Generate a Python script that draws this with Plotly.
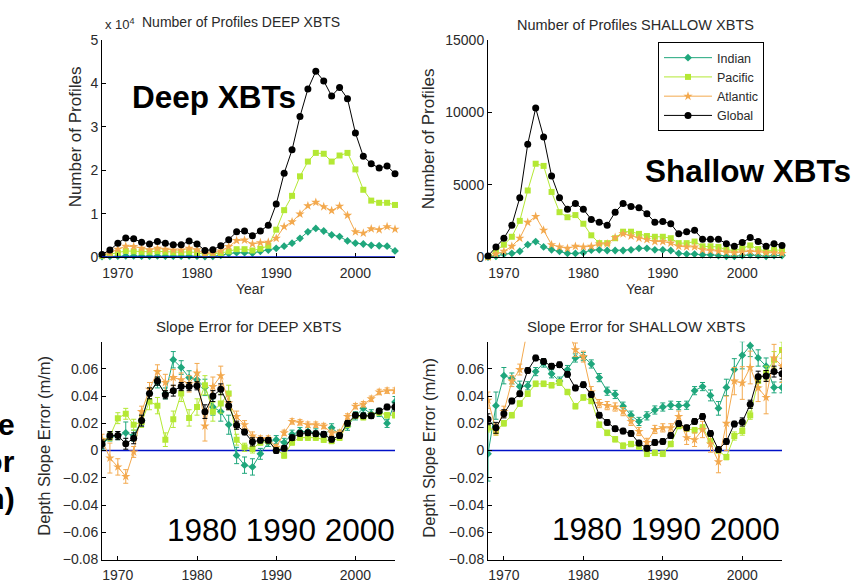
import plotly.graph_objects as go

# ---------------------------------------------------------------- data
years = list(range(1968, 2006))

# number of profiles per year, DEEP XBTs
deep_indian = [100, 150, 200, 250, 250, 200, 200, 250, 200, 200, 200, 250, 200, 100, 150, 400,
               800, 1000, 1000, 900, 1300, 1600,
               2000, 2500, 3200, 4300, 5800, 6600, 6000, 5100, 4700, 3700, 3200, 3000, 2700, 2600, 2500, 1400]
deep_pacific = [300, 600, 1000, 1400, 1300, 1200, 1200, 1300, 1200, 1100, 1100, 1200, 1000, 600, 700, 900,
                1300, 1800, 1800, 1500, 1900, 2600,
                6300, 10800, 14100, 18600, 22000, 24000, 23800, 22000, 23400, 24000, 20200, 15500, 13000, 12500, 12500, 12000]
deep_atlantic = [400, 1000, 1800, 2500, 2400, 2000, 1700, 2000, 1800, 1600, 1600, 2000, 1700, 800, 900, 1400,
                 2400, 3800, 3900, 3000, 3300, 3400,
                 4300, 7000, 8100, 9900, 11800, 12600, 11600, 10700, 11700, 9600, 5800, 5500, 6500, 6300, 7000, 6400]
deep_global = [600, 1600, 3200, 4400, 4200, 3400, 3000, 3600, 3200, 2800, 2800, 3700, 3000, 1500, 1700, 2600,
               4000, 5800, 6000, 4900, 6000, 7300,
               12200, 19300, 24700, 32400, 38700, 42800, 40600, 37100, 39100, 36500, 28600, 23200, 21500, 20500, 21000, 19200]

# number of profiles per year, SHALLOW XBTs
shallow_indian = [0, 50, 200, 250, 400, 850, 1070, 700, 500, 400, 250, 250, 300, 470, 500, 450, 450, 450, 500,
                  600, 600, 500, 500, 450, 250, 200, 200, 150, 150, 100, 50, 50, 100, 150, 100, 50, 100, 100]
shallow_pacific = [0, 400, 850, 1400, 2500, 4600, 6450, 6300, 4500, 3100, 2750, 2900, 2300, 1500, 960, 960, 1300,
                   1750, 1750, 1600, 1450, 1400, 1400, 1300, 960, 960, 1070, 740, 740, 700, 500, 450, 600, 800,
                   550, 400, 500, 450]
shallow_atlantic = [0, 200, 400, 740, 1300, 2400, 2800, 1850, 850, 700, 600, 740, 700, 740, 900, 900, 1350, 1600,
                    1450, 1300, 1200, 1070, 1070, 960, 740, 700, 700, 500, 450, 400, 350, 300, 350, 400, 350, 300,
                    300, 250]
shallow_global = [70, 700, 1300, 2200, 4100, 7800, 10300, 8300, 5600, 4100, 3300, 3700, 3300, 2600, 2400, 2200,
                  3100, 3700, 3500, 3400, 3000, 2400, 2450, 2300, 1600, 1750, 1850, 1230, 1230, 1230, 920, 740,
                  1000, 1350, 1080, 740, 920, 800]

# depth slope error (m/m) and its uncertainty, DEEP XBTs
slope_deep_indian = [0.004, 0.010, 0.011, 0.013, 0.011, 0.022, 0.042, 0.050, 0.042, 0.0667,
                     0.061, 0.0536, 0.052, 0.0464, 0.032, 0.0286, 0.019, -0.0036, -0.0107, -0.012,
                     -0.0024, 0.006, 0.008, 0.006, 0.012, 0.014, 0.014, 0.013, 0.011, 0.0167,
                     0.012, 0.0179, 0.0255, 0.031, 0.027, 0.028, 0.020, 0.0357]
slope_deep_indian_err = [0.003, 0.003, 0.003, 0.008, 0.004, 0.004, 0.004, 0.004, 0.004, 0.006,
                         0.005, 0.005, 0.005, 0.006, 0.006, 0.007, 0.007, 0.006, 0.006, 0.006,
                         0.004, 0.003, 0.003, 0.003, 0.003, 0.003, 0.003, 0.003, 0.003, 0.003,
                         0.003, 0.003, 0.003, 0.003, 0.003, 0.003, 0.003, 0.004]
slope_deep_pacific = [0.006, 0.0105, 0.0238, 0.027, 0.019, 0.021, 0.036, 0.033, 0.008, 0.023,
                      0.042, 0.024, 0.032, 0.048, 0.0286, 0.0345, 0.042, 0.008, 0.0024, 0.0012,
                      0.006, 0.007, 0.001, -0.0036, 0.006, 0.0095, 0.0095, 0.0095, 0.008, 0.007,
                      0.0095, 0.019, 0.0255, 0.0245, 0.026, 0.028, 0.026, 0.026]
slope_deep_pacific_err = [0.003, 0.003, 0.004, 0.004, 0.004, 0.004, 0.006, 0.006, 0.005, 0.006,
                          0.006, 0.006, 0.006, 0.007, 0.007, 0.007, 0.006, 0.004, 0.003, 0.003,
                          0.002, 0.002, 0.002, 0.002, 0.002, 0.002, 0.002, 0.002, 0.002, 0.002,
                          0.002, 0.002, 0.002, 0.002, 0.002, 0.002, 0.002, 0.002]
slope_deep_atlantic = [0.008, -0.0055, -0.012, -0.019, -0.001, 0.0286, 0.045, 0.058, 0.050, 0.0536,
                       0.052, 0.049, 0.057, 0.018, 0.047, 0.055, 0.035, 0.025, 0.019, 0.0107,
                       0.0088, 0.0088, 0.0024, 0.013, 0.0214, 0.0207, 0.019, 0.019, 0.018, 0.013,
                       0.013, 0.025, 0.0326, 0.034, 0.038, 0.043, 0.044, 0.044]
slope_deep_atlantic_err = [0.004, 0.011, 0.006, 0.005, 0.004, 0.004, 0.005, 0.005, 0.006, 0.006,
                           0.005, 0.006, 0.007, 0.011, 0.007, 0.007, 0.005, 0.004, 0.003, 0.003,
                           0.002, 0.002, 0.002, 0.002, 0.002, 0.002, 0.002, 0.002, 0.002, 0.002,
                           0.002, 0.002, 0.002, 0.002, 0.002, 0.002, 0.002, 0.002]
slope_deep_global = [0.0048, 0.011, 0.011, 0.005, 0.009, 0.022, 0.042, 0.051, 0.041, 0.044,
                     0.047, 0.047, 0.0476, 0.0286, 0.040, 0.045, 0.033, 0.0186, 0.0136, 0.0064,
                     0.0076, 0.0076, 0.0, 0.0017, 0.0095, 0.0126, 0.013, 0.0124, 0.0119, 0.0083,
                     0.011, 0.020, 0.026, 0.0255, 0.0255, 0.029, 0.032, 0.032]
slope_deep_global_err = [0.003, 0.003, 0.003, 0.004, 0.004, 0.004, 0.004, 0.003, 0.003, 0.004,
                         0.003, 0.003, 0.003, 0.005, 0.004, 0.004, 0.003, 0.003, 0.002, 0.003,
                         0.002, 0.002, 0.002, 0.002, 0.002, 0.002, 0.002, 0.002, 0.002, 0.002,
                         0.002, 0.002, 0.002, 0.002, 0.002, 0.002, 0.002, 0.003]

# depth slope error (m/m) and its uncertainty, SHALLOW XBTs
slope_shallow_indian = [-0.0024, 0.033, 0.055, 0.053, 0.047, 0.0476, 0.058, 0.0643, 0.0564, 0.051,
                        0.0595, 0.068, 0.069, 0.0636, 0.0536, 0.0436, 0.0412, 0.0326, 0.026, 0.0214,
                        0.0255, 0.0298, 0.032, 0.0333, 0.033, 0.0333, 0.044, 0.047, 0.0405, 0.031,
                        0.0464, 0.0595, 0.070, 0.077, 0.068, 0.062, 0.0464, 0.0464]
slope_shallow_indian_err = [0.02, 0.01, 0.006, 0.004, 0.004, 0.003, 0.003, 0.003, 0.003, 0.003,
                            0.003, 0.003, 0.003, 0.003, 0.003, 0.003, 0.003, 0.003, 0.003, 0.003,
                            0.003, 0.003, 0.003, 0.003, 0.003, 0.003, 0.003, 0.003, 0.004, 0.005,
                            0.006, 0.008, 0.010, 0.008, 0.006, 0.006, 0.004, 0.004]
slope_shallow_pacific = [0.0167, 0.0143, 0.020, 0.026, 0.0345, 0.0417, 0.049, 0.049, 0.048, 0.050,
                         0.043, 0.0326, 0.039, 0.0364, 0.019, 0.013, 0.0083, 0.0036, 0.0048, 0.003,
                         -0.0024, -0.0017, -0.0024, 0.0048, 0.018, 0.016, 0.015, 0.017, 0.007, 0.0,
                         -0.0048, 0.0107, 0.0143, 0.026, 0.051, 0.057, 0.0667, 0.0738]
slope_shallow_pacific_err = [0.003, 0.003, 0.002, 0.002, 0.002, 0.002, 0.002, 0.002, 0.002, 0.002,
                             0.002, 0.002, 0.002, 0.002, 0.002, 0.002, 0.002, 0.002, 0.002, 0.002,
                             0.002, 0.002, 0.002, 0.002, 0.002, 0.002, 0.002, 0.002, 0.002, 0.002,
                             0.002, 0.003, 0.003, 0.003, 0.004, 0.005, 0.006, 0.006]
slope_shallow_atlantic = [0.037, 0.0155, 0.0286, 0.051, 0.0595, 0.09, 0.10, 0.10, 0.10, 0.095,
                          0.09, 0.074, 0.069, 0.043, 0.0345, 0.033, 0.032, 0.0286, 0.0214, 0.014,
                          0.006, 0.0155, 0.0167, 0.0167, 0.025, 0.0095, 0.008, 0.0155, 0.0048, -0.0083,
                          0.02, 0.051, 0.0496, 0.061, 0.046, 0.039, 0.068, 0.062]
slope_shallow_atlantic_err = [0.006, 0.004, 0.004, 0.004, 0.004, 0.005, 0.005, 0.005, 0.005, 0.005,
                              0.005, 0.005, 0.004, 0.004, 0.003, 0.003, 0.003, 0.003, 0.003, 0.003,
                              0.003, 0.003, 0.003, 0.003, 0.004, 0.005, 0.005, 0.006, 0.006, 0.008,
                              0.020, 0.010, 0.012, 0.012, 0.010, 0.012, 0.010, 0.012]
slope_shallow_global = [0.023, 0.0167, 0.027, 0.0364, 0.0417, 0.0588, 0.068, 0.0655, 0.062, 0.063,
                        0.056, 0.046, 0.0484, 0.0412, 0.026, 0.0207, 0.016, 0.0143, 0.0126, 0.0055,
                        0.0017, 0.006, 0.0067, 0.011, 0.0198, 0.0167, 0.0214, 0.025, 0.0126, 0.0007,
                        0.0067, 0.0195, 0.021, 0.034, 0.0543, 0.0548, 0.058, 0.0564]
slope_shallow_global_err = [0.004, 0.004, 0.003, 0.002, 0.002, 0.002, 0.002, 0.002, 0.002, 0.002,
                            0.002, 0.002, 0.002, 0.002, 0.002, 0.002, 0.002, 0.002, 0.002, 0.002,
                            0.002, 0.002, 0.002, 0.002, 0.002, 0.002, 0.002, 0.002, 0.002, 0.002,
                            0.002, 0.002, 0.003, 0.003, 0.004, 0.004, 0.004, 0.004]

basin_names = ["Indian", "Pacific", "Atlantic", "Global"]
year_ticks = [1970, 1980, 1990, 2000]
deep_count_ticks = [0, 10000, 20000, 30000, 40000, 50000]
deep_count_ticktext = ["0", "1", "2", "3", "4", "5"]
shallow_count_ticks = [0, 5000, 10000, 15000]
shallow_count_ticktext = ["0", "5000", "10000", "15000"]
slope_ticks = [-0.08, -0.06, -0.04, -0.02, 0, 0.02, 0.04, 0.06]

# ---------------------------------------------------------------- styling
W, H = 863, 586
FONT = "Liberation Sans, Arial, Helvetica, sans-serif"
TXT = "#2a2a2a"
colors = {"Indian": "#1fa77c", "Pacific": "#b4e834", "Atlantic": "#f3a94e", "Global": "#000000"}
symbols = {"Indian": "diamond", "Pacific": "square", "Atlantic": "star", "Global": "circle"}
msize = {"Indian": 6, "Pacific": 6, "Atlantic": 7, "Global": 7}


def px(x):
    return x / W


def py(y):
    return 1 - y / H


fig = go.Figure()

counts = {
    ("x", "y"): [deep_indian, deep_pacific, deep_atlantic, deep_global],
    ("x2", "y2"): [shallow_indian, shallow_pacific, shallow_atlantic, shallow_global],
}
for (xa, ya), series in counts.items():
    for name, vals in zip(basin_names, series):
        fig.add_trace(go.Scatter(
            x=years, y=vals, xaxis=xa, yaxis=ya, name=name, mode="lines+markers",
            legendgroup=name, showlegend=(xa == "x2"), cliponaxis=False,
            line=dict(color=colors[name], width=1),
            marker=dict(symbol=symbols[name], size=msize[name], color=colors[name],
                        line=dict(width=0)),
        ))

slopes = {
    ("x3", "y3"): [(slope_deep_indian, slope_deep_indian_err),
                   (slope_deep_pacific, slope_deep_pacific_err),
                   (slope_deep_atlantic, slope_deep_atlantic_err),
                   (slope_deep_global, slope_deep_global_err)],
    ("x4", "y4"): [(slope_shallow_indian, slope_shallow_indian_err),
                   (slope_shallow_pacific, slope_shallow_pacific_err),
                   (slope_shallow_atlantic, slope_shallow_atlantic_err),
                   (slope_shallow_global, slope_shallow_global_err)],
}
for (xa, ya), series in slopes.items():
    for name, (vals, errs) in zip(basin_names, series):
        fig.add_trace(go.Scatter(
            x=years, y=vals, xaxis=xa, yaxis=ya, name=name, mode="lines+markers",
            legendgroup=name, showlegend=False, cliponaxis=True,
            line=dict(color=colors[name], width=1),
            marker=dict(symbol=symbols[name], size=msize[name], color=colors[name],
                        line=dict(width=0)),
            error_y=dict(type="data", array=errs, color=colors[name], thickness=1, width=2.5),
        ))

# zero reference lines
for xr, yr, lay in [("x", "y", "above"), ("x3", "y3", "below"), ("x4", "y4", "below")]:
    fig.add_shape(type="line", xref=xr, yref=yr, x0=1968, x1=2005, y0=0, y1=0,
                  line=dict(color="#0010c8", width=1.5), layer=lay)

left_dom = [px(102), px(395)]
right_dom = [px(488), px(782)]
top_dom = [py(256), py(33)]
bot_dom = [py(567), py(343)]

axis_common = dict(showline=True, linecolor="black", linewidth=1, ticks="inside", ticklen=4,
                   tickcolor="black", showgrid=False, zeroline=False,
                   tickfont=dict(family=FONT, size=14, color=TXT))

xcommon = dict(axis_common, range=[1968, 2005], tickvals=year_ticks, ticklabelstandoff=3)
layout = dict(
    width=W, height=H, margin=dict(l=0, r=0, t=0, b=0),
    paper_bgcolor="white", plot_bgcolor="white",
    font=dict(family=FONT, size=14, color=TXT),
    xaxis=dict(xcommon, domain=left_dom, anchor="y"),
    yaxis=dict(axis_common, domain=top_dom, anchor="x", range=[0, 50000],
               tickvals=deep_count_ticks, ticktext=deep_count_ticktext),
    xaxis2=dict(xcommon, domain=right_dom, anchor="y2"),
    yaxis2=dict(axis_common, domain=top_dom, anchor="x2", range=[0, 15000],
                tickvals=shallow_count_ticks, ticktext=shallow_count_ticktext),
    xaxis3=dict(xcommon, domain=left_dom, anchor="y3"),
    yaxis3=dict(axis_common, domain=bot_dom, anchor="x3", range=[-0.08, 0.08],
                tickvals=slope_ticks),
    xaxis4=dict(xcommon, domain=right_dom, anchor="y4"),
    yaxis4=dict(axis_common, domain=bot_dom, anchor="x4", range=[-0.08, 0.08],
                tickvals=slope_ticks),
    showlegend=True,
    legend=dict(x=px(658), y=py(35), xanchor="left", yanchor="top",
                bgcolor="white", bordercolor="black", borderwidth=1,
                font=dict(family=FONT, size=12.5, color=TXT),
                itemwidth=48, tracegroupgap=0),
)
fig.update_layout(**layout)


def label(text, x, y, size=14, angle=0, xanchor="center", bold=False, color=TXT):
    fig.add_annotation(text=f"<b>{text}</b>" if bold else text, x=px(x), y=py(y),
                       xref="paper", yref="paper", showarrow=False, textangle=angle,
                       xanchor=xanchor, yanchor="middle",
                       font=dict(family=FONT, size=size, color=color))


# panel titles and axis labels
label("x 10<sup>4</sup>", 103, 16, size=13, xanchor="left")
label("Number of Profiles DEEP XBTS", 241, 14, size=14)
label("Number of Profiles SHALLOW XBTS", 635, 17, size=14.5)
label("Slope Error for DEEP XBTS", 249, 327, size=15)
label("Slope Error for SHALLOW XBTS", 636, 327, size=15)
label("Year", 250, 289)
label("Year", 640, 289)
label("Number of Profiles", 75, 133, size=17, angle=-90)
label("Number of Profiles", 428, 135, size=17, angle=-90)
label("Depth Slope Error (m/m)", 44, 450, size=16.5, angle=-90)
label("Depth Slope Error (m/m)", 429, 452, size=16.5, angle=-90)

# large callouts
label("Deep XBTs", 130, 91, size=31.5, xanchor="left", bold=True, color="black")
label("Shallow XBTs", 643, 168, size=31.5, xanchor="left", bold=True, color="black")
label("1980 1990 2000", 165, 537, size=31.5, xanchor="left", color="black")
label("1980 1990 2000", 550, 536, size=31.5, xanchor="left", color="black")
label("Slope", 17, 428, size=30, xanchor="right", bold=True, color="black")
label("Error", 17, 466, size=30, xanchor="right", bold=True, color="black")
label("(m/m)", 17, 504, size=30, xanchor="right", bold=True, color="black")

fig.write_html("out.html")
